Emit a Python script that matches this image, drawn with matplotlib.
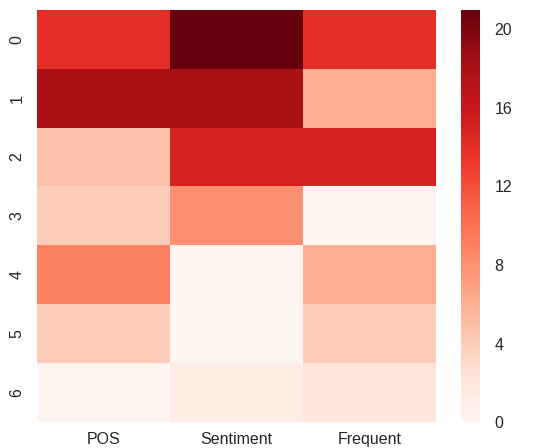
import numpy as np
import pandas as pd
import seaborn as sns
import matplotlib
matplotlib.use("Agg")
import matplotlib.pyplot as plt

columns = ["POS", "Sentiment", "Frequent"]
pos = [14, 18, 5, 4, 9, 4, 0]
sentiment = [21, 18, 15, 8, 0, 0, 1]
frequent = [14, 6, 15, 0, 6, 4, 2]

df = pd.DataFrame({"POS": pos, "Sentiment": sentiment, "Frequent": frequent})[columns]

sns.set_style("darkgrid")
plt.rcParams['font.family'] = ['Liberation Sans', 'DejaVu Sans']

fig = plt.figure(figsize=(5.41, 4.48), dpi=100)
ax = fig.add_axes([0.068, 0.058, 0.738, 0.92])
cax = fig.add_axes([0.852, 0.058, 0.036, 0.92])

sns.heatmap(df, cmap="Reds", vmin=0, vmax=21, ax=ax, cbar_ax=cax)
cax.set_yticks([0, 4, 8, 12, 16, 20])

for a in (ax, cax):
    a.tick_params(labelsize=11.5, labelcolor='.15', length=0)
ax.tick_params(axis='y', pad=9)
ax.tick_params(axis='x', pad=7)
cax.tick_params(pad=10)
ax.set_yticklabels(ax.get_yticklabels(), rotation=90, va='center')
ax.set_xticklabels(ax.get_xticklabels(), rotation=0)
cax.collections[0].set_edgecolor("face")

fig.savefig("out.png", dpi=100)
